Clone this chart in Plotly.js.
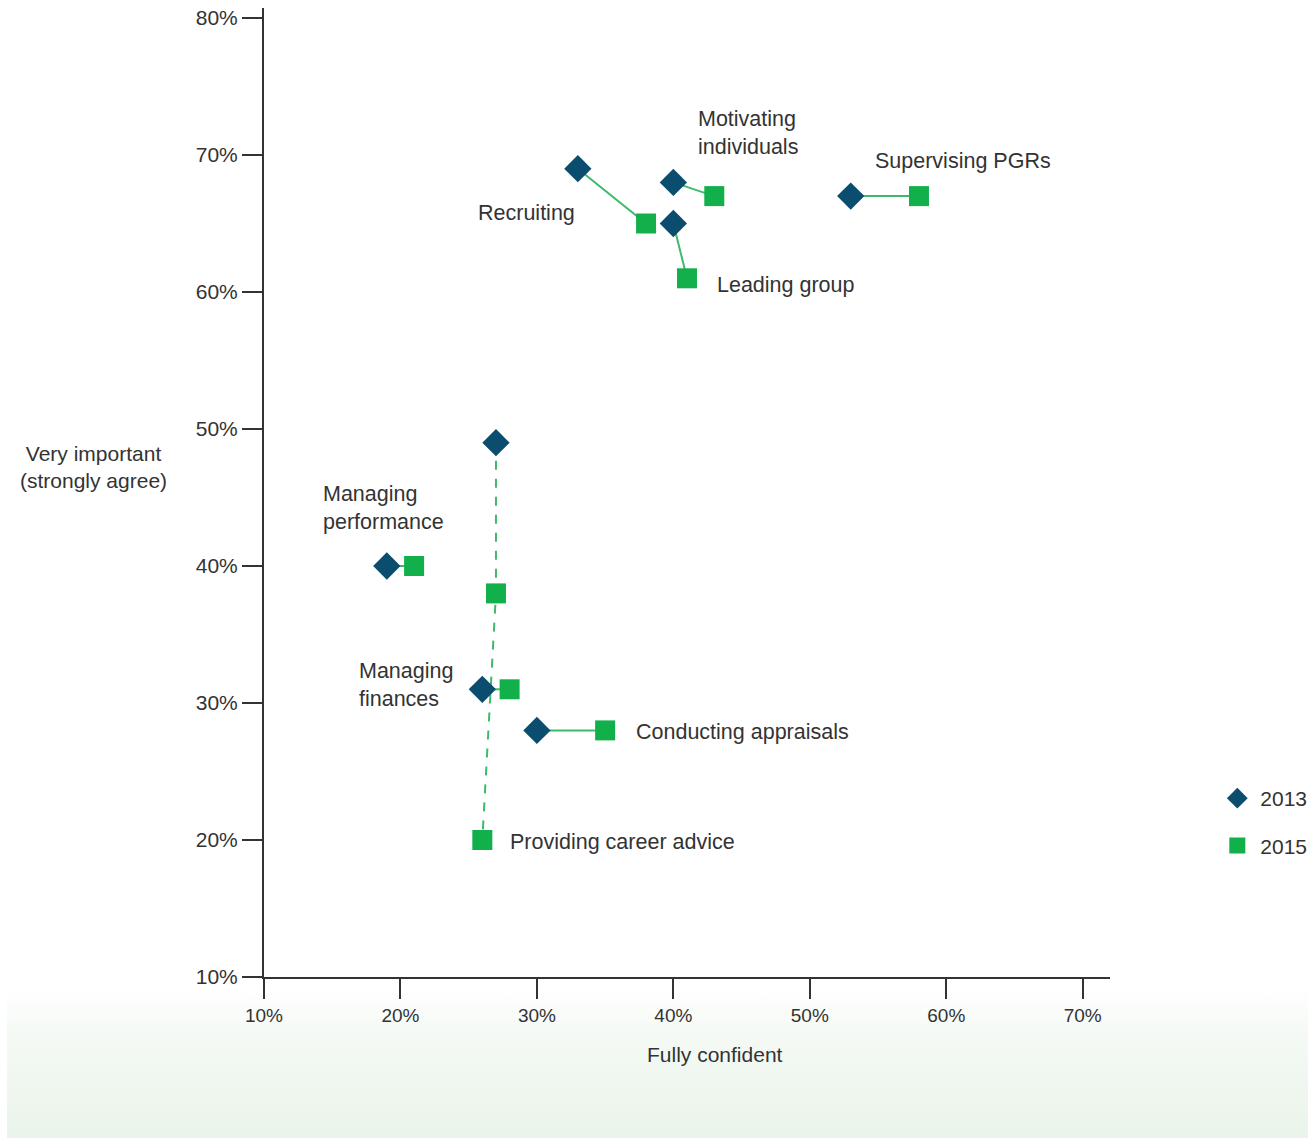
<!DOCTYPE html>
<html><head><meta charset="utf-8">
<script src="https://cdn.plot.ly/plotly-3.0.1.min.js"></script>
<style>
html,body{margin:0;padding:0;background:#fff;}
#wrap{position:relative;width:1308px;height:1138px;overflow:hidden;background:#fff;}
#grad{position:absolute;left:7px;top:985px;width:1301px;height:153px;background:linear-gradient(to bottom,#ffffff 0%,#f4f9f4 35%,#eaf4ea 100%);}
#chart{position:absolute;left:0;top:0;width:1308px;height:1138px;}
</style></head>
<body><div id="wrap"><div id="grad"></div><div id="chart"></div></div>
<script>
const categories = ['Recruiting','Motivating individuals','Leading group','Supervising PGRs','Managing performance','Providing career advice','Managing finances','Conducting appraisals'];
const x2013 = [33,40,40,53,19,27,26,30];
const y2013 = [69,68,65,67,40,49,31,28];
const x2015 = [38,43,41,58,21,26,28,35];
const y2015 = [65,67,61,67,40,20,31,28];
// extra unlabeled 2015 square on the dashed career-advice path
const xMid = [27];
const yMid = [38];
const xTicks = [10,20,30,40,50,60,70];
const yTicks = [10,20,30,40,50,60,70,80];
const tickLabels = ['10%','20%','30%','40%','50%','60%','70%','80%'];

const navy = '#0b4d6e', green = '#12b04b', lineGreen = '#3dba6b';
const traces = [];
categories.forEach((c,i)=>{
  let xs = [x2013[i], x2015[i]], ys = [y2013[i], y2015[i]];
  let dash = 'solid';
  if (c === 'Providing career advice') { xs = [x2013[i], xMid[0], x2015[i]]; ys = [y2013[i], yMid[0], y2015[i]]; dash = 'dash'; }
  traces.push({x:xs, y:ys, mode:'lines', line:{color:lineGreen, width:2, dash:dash}, showlegend:false, hoverinfo:'skip', legendgroup:'z'});
});
traces.push({x:x2013, y:y2013, mode:'markers', name:'2013', legendgroup:'a',
  marker:{symbol:'diamond', size:21, color:navy}});
traces.push({x:x2015.concat(xMid), y:y2015.concat(yMid), mode:'markers', name:'2015', legendgroup:'b',
  marker:{symbol:'square', size:20, color:green}});

const lf = {family:'Liberation Sans, Arial, sans-serif', size:21.5, color:'#333'};
function ann(text,x,y,xanchor){ return {text:text, x:x, y:y, xref:'x', yref:'y', xanchor:xanchor||'left', yanchor:'middle', showarrow:false, align:'left', font:lf}; }
const tf = {family:'Liberation Sans, Arial, sans-serif', size:21, color:'#333'};
const annotations = [
  ann('Motivating<br>individuals',41.65,71.57),
  ann('Supervising PGRs',54.65,69.56),
  ann('Recruiting',25.5,65.77),
  ann('Leading group',43.05,60.5),
  ann('Managing<br>performance',14.15,44.27),
  ann('Managing<br>finances',16.85,31.3),
  ann('Conducting appraisals',37.15,27.9),
  ann('Providing career advice',27.85,19.85),
  {text:'Very important<br>(strongly agree)', xref:'paper', yref:'paper', x:(93-264)/846, y:(977-467)/969, xanchor:'center', yanchor:'middle', showarrow:false, align:'center', font:tf},
  {text:'Fully confident', xref:'paper', yref:'paper', x:(715-264)/846, y:-(1054-977)/969, xanchor:'center', yanchor:'middle', showarrow:false, font:tf}
];

const layout = {
  width:1308, height:1138,
  margin:{l:264, r:198, t:8, b:161, autoexpand:false},
  paper_bgcolor:'rgba(0,0,0,0)', plot_bgcolor:'rgba(0,0,0,0)',
  font:{family:'Liberation Sans, Arial, sans-serif', color:'#333'},
  xaxis:{range:[10,72], tickvals:xTicks, ticktext:tickLabels.slice(0,7), showgrid:false, zeroline:false,
    showline:true, linecolor:'#333', linewidth:2, ticks:'outside', ticklen:20, tickwidth:2, tickcolor:'#333',
    tickfont:{size:19, color:'#333'}},
  yaxis:{range:[10,80.73], tickvals:yTicks, ticktext:tickLabels, showgrid:false, zeroline:false,
    showline:true, linecolor:'#333', linewidth:2, ticks:'outside', ticklen:20, tickwidth:2, tickcolor:'#333',
    tickfont:{size:21, color:'#333'}},
  showlegend:true,
  legend:{x:1.1233, y:(977-778)/969, xanchor:'left', yanchor:'top', traceorder:'grouped', tracegroupgap:17,
    itemwidth:36, font:{size:21, color:'#333'}, bgcolor:'rgba(0,0,0,0)'},
  annotations:annotations
};
Plotly.newPlot('chart', traces, layout, {displayModeBar:false, staticPlot:true});
</script></body></html>
